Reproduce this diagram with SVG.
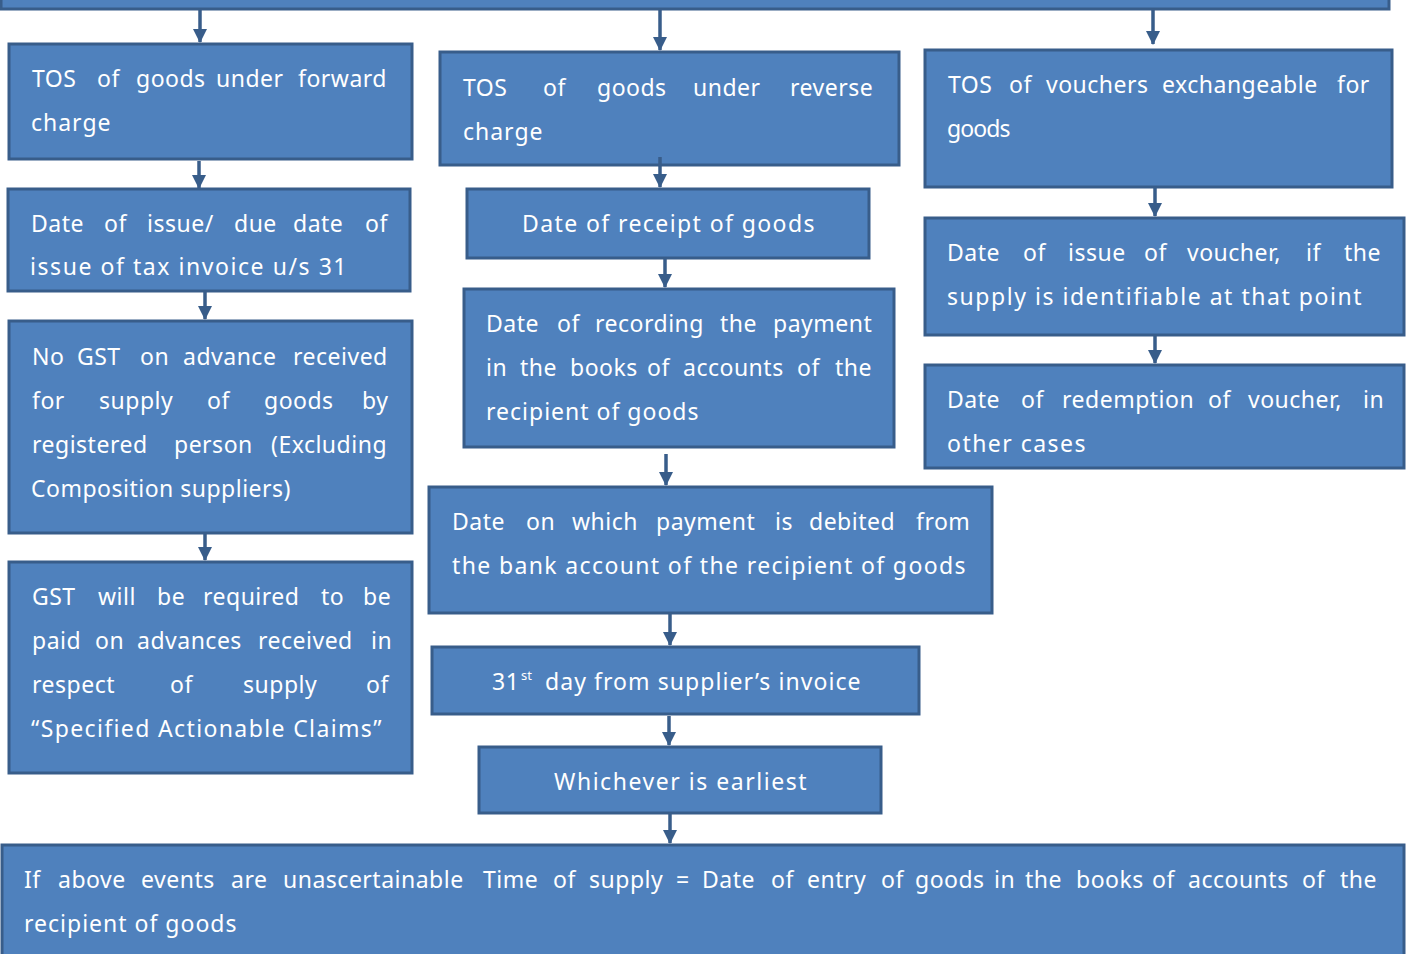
<svg xmlns="http://www.w3.org/2000/svg" width="1406" height="954" viewBox="0 0 1406 954">
<style>
.box{fill:#4F81BD;stroke:#385D8A;stroke-width:3}
.t{fill:#FFFFFF;font-family:"Noto Sans","DejaVu Sans",sans-serif;font-size:23px;letter-spacing:0.5px}
.c{stroke:#385D8A;stroke-width:3.5;fill:none}
</style>
<defs>
<marker id="ah" markerUnits="userSpaceOnUse" markerWidth="16" markerHeight="16" refX="13" refY="7" orient="auto">
<path d="M0,0 L14,7 L0,14 z" fill="#385D8A"/>
</marker>
</defs>
<rect x="0" y="0" width="1406" height="954" fill="#FFFFFF"/>
<g id="topbar"><rect class="box" x="1" y="-20" width="1388" height="29"/></g>

<g id="a1"><rect class="box" x="9" y="44" width="403" height="115"/>
<text class="t" y="87"><tspan x="32">TOS</tspan><tspan x="97">of</tspan><tspan x="136">goods</tspan><tspan x="216">under</tspan><tspan x="298">forward</tspan></text>
<text class="t" x="31" y="131" textLength="80" lengthAdjust="spacing">charge</text></g>

<g id="a2"><rect class="box" x="8" y="189" width="402" height="102"/>
<text class="t" y="232"><tspan x="31">Date</tspan><tspan x="104">of</tspan><tspan x="147">issue/</tspan><tspan x="234">due</tspan><tspan x="293">date</tspan><tspan x="365">of</tspan></text>
<text class="t" x="30" y="275" textLength="317" lengthAdjust="spacing">issue of tax invoice u/s 31</text></g>

<g id="a3"><rect class="box" x="9" y="321" width="403" height="212"/>
<text class="t" y="365"><tspan x="32">No</tspan><tspan x="77">GST</tspan><tspan x="140">on</tspan><tspan x="183">advance</tspan><tspan x="293">received</tspan></text>
<text class="t" y="409"><tspan x="32">for</tspan><tspan x="99">supply</tspan><tspan x="207">of</tspan><tspan x="264">goods</tspan><tspan x="362">by</tspan></text>
<text class="t" y="453"><tspan x="32">registered</tspan><tspan x="174">person</tspan><tspan x="271">(Excluding</tspan></text>
<text class="t" x="31" y="497" textLength="260" lengthAdjust="spacing">Composition suppliers)</text></g>

<g id="a4"><rect class="box" x="9" y="562" width="403" height="211"/>
<text class="t" y="605"><tspan x="32">GST</tspan><tspan x="98">will</tspan><tspan x="157">be</tspan><tspan x="203">required</tspan><tspan x="321">to</tspan><tspan x="363">be</tspan></text>
<text class="t" y="649"><tspan x="32">paid</tspan><tspan x="95">on</tspan><tspan x="137">advances</tspan><tspan x="258">received</tspan><tspan x="371">in</tspan></text>
<text class="t" y="693"><tspan x="32">respect</tspan><tspan x="170">of</tspan><tspan x="243">supply</tspan><tspan x="366">of</tspan></text>
<text class="t" x="31" y="737" textLength="351" lengthAdjust="spacing">“Specified Actionable Claims”</text></g>

<g id="b1"><rect class="box" x="440" y="52" width="459" height="113"/>
<text class="t" y="96"><tspan x="463">TOS</tspan><tspan x="543">of</tspan><tspan x="597">goods</tspan><tspan x="693">under</tspan><tspan x="790">reverse</tspan></text>
<text class="t" x="463" y="140" textLength="80" lengthAdjust="spacing">charge</text></g>

<g id="b2"><rect class="box" x="467" y="189" width="402" height="69"/>
<text class="t" x="522" y="232" textLength="293" lengthAdjust="spacing">Date of receipt of goods</text></g>

<g id="b3"><rect class="box" x="464" y="289" width="430" height="158"/>
<text class="t" y="332"><tspan x="486">Date</tspan><tspan x="557">of</tspan><tspan x="595">recording</tspan><tspan x="720">the</tspan><tspan x="773">payment</tspan></text>
<text class="t" y="376"><tspan x="486">in</tspan><tspan x="520">the</tspan><tspan x="570">books</tspan><tspan x="647">of</tspan><tspan x="683">accounts</tspan><tspan x="797">of</tspan><tspan x="835">the</tspan></text>
<text class="t" x="486" y="420" textLength="213" lengthAdjust="spacing">recipient of goods</text></g>

<g id="b4"><rect class="box" x="429" y="487" width="563" height="126"/>
<text class="t" y="530"><tspan x="452">Date</tspan><tspan x="526">on</tspan><tspan x="572">which</tspan><tspan x="656">payment</tspan><tspan x="775">is</tspan><tspan x="809">debited</tspan><tspan x="916">from</tspan></text>
<text class="t" x="452" y="574" textLength="514" lengthAdjust="spacing">the bank account of the recipient of goods</text></g>

<g id="b5"><rect class="box" x="432" y="647" width="487" height="67"/>
<text class="t" x="492" y="690">31</text>
<text class="t" x="521" y="680" style="font-size:13px;letter-spacing:0">st</text>
<text class="t" x="545" y="690" textLength="316" lengthAdjust="spacing">day from supplier’s invoice</text></g>

<g id="b6"><rect class="box" x="479" y="747" width="402" height="66"/>
<text class="t" x="554" y="790" textLength="253" lengthAdjust="spacing">Whichever is earliest</text></g>

<g id="c1"><rect class="box" x="925" y="50" width="467" height="137"/>
<text class="t" y="93"><tspan x="948">TOS</tspan><tspan x="1009">of</tspan><tspan x="1046">vouchers</tspan><tspan x="1162">exchangeable</tspan><tspan x="1337">for</tspan></text>
<text class="t" x="947" y="137" textLength="64" lengthAdjust="spacing">goods</text></g>

<g id="c2"><rect class="box" x="925" y="218" width="479" height="117"/>
<text class="t" y="261"><tspan x="947">Date</tspan><tspan x="1023">of</tspan><tspan x="1068">issue</tspan><tspan x="1144">of</tspan><tspan x="1187">voucher,</tspan><tspan x="1306">if</tspan><tspan x="1344">the</tspan></text>
<text class="t" x="947" y="305" textLength="415" lengthAdjust="spacing">supply is identifiable at that point</text></g>

<g id="c3"><rect class="box" x="925" y="365" width="479" height="103"/>
<text class="t" y="408"><tspan x="947">Date</tspan><tspan x="1021">of</tspan><tspan x="1062">redemption</tspan><tspan x="1208">of</tspan><tspan x="1248">voucher,</tspan><tspan x="1363">in</tspan></text>
<text class="t" x="947" y="452" textLength="139" lengthAdjust="spacing">other cases</text></g>

<g id="bottom"><rect class="box" x="2" y="845" width="1402" height="120"/>
<text class="t" y="888"><tspan x="24">If</tspan><tspan x="58">above</tspan><tspan x="141">events</tspan><tspan x="231">are</tspan><tspan x="283">unascertainable</tspan><tspan x="483">Time</tspan><tspan x="553">of</tspan><tspan x="589">supply</tspan><tspan x="676">=</tspan><tspan x="702">Date</tspan><tspan x="771">of</tspan><tspan x="807">entry</tspan><tspan x="881">of</tspan><tspan x="915">goods</tspan><tspan x="994">in</tspan><tspan x="1025">the</tspan><tspan x="1076">books</tspan><tspan x="1152">of</tspan><tspan x="1188">accounts</tspan><tspan x="1302">of</tspan><tspan x="1340">the</tspan></text>
<text class="t" x="24" y="932" textLength="213" lengthAdjust="spacing">recipient of goods</text></g>

<g id="connectors">
<line class="c" x1="200" y1="10" x2="200" y2="42" marker-end="url(#ah)"/>
<line class="c" x1="660" y1="10" x2="660" y2="50" marker-end="url(#ah)"/>
<line class="c" x1="1153" y1="10" x2="1153" y2="44" marker-end="url(#ah)"/>
<line class="c" x1="199" y1="161" x2="199" y2="188" marker-end="url(#ah)"/>
<line class="c" x1="205" y1="292" x2="205" y2="319" marker-end="url(#ah)"/>
<line class="c" x1="205" y1="534" x2="205" y2="560" marker-end="url(#ah)"/>
<line class="c" x1="660" y1="157" x2="660" y2="187" marker-end="url(#ah)"/>
<line class="c" x1="665" y1="259" x2="665" y2="287" marker-end="url(#ah)"/>
<line class="c" x1="666" y1="454" x2="666" y2="485" marker-end="url(#ah)"/>
<line class="c" x1="670" y1="614" x2="670" y2="645" marker-end="url(#ah)"/>
<line class="c" x1="669" y1="716" x2="669" y2="745" marker-end="url(#ah)"/>
<line class="c" x1="670" y1="814" x2="670" y2="843" marker-end="url(#ah)"/>
<line class="c" x1="1155" y1="188" x2="1155" y2="216" marker-end="url(#ah)"/>
<line class="c" x1="1155" y1="336" x2="1155" y2="363" marker-end="url(#ah)"/>
</g>
</svg>
